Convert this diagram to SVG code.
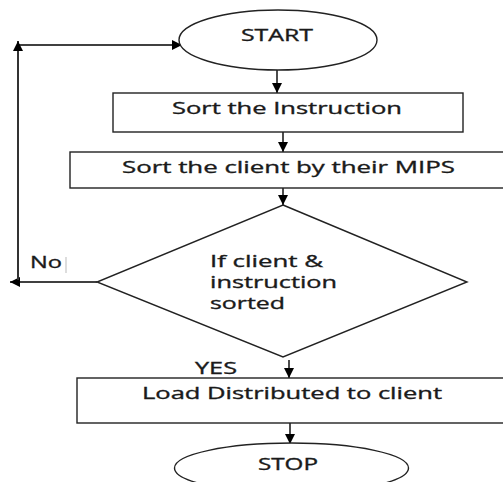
<svg xmlns="http://www.w3.org/2000/svg" width="503" height="482" viewBox="0 0 503 482">
<style>
.shape{fill:#fff;stroke:#222;stroke-width:1.4}
.t{font-family:"Open Sans","Liberation Sans",sans-serif;font-size:16.5px;fill:#1a1a1a;stroke:#1a1a1a;stroke-width:0.35}
.c{text-anchor:middle}
.ln{fill:none;stroke:#000;stroke-width:1.4}
</style>
<defs>
<marker id="ah" viewBox="0 0 10 10" refX="10" refY="5" markerWidth="10" markerHeight="10" markerUnits="userSpaceOnUse" orient="auto">
<path d="M0,0 L10,5 L0,10 z" fill="#000"/>
</marker>
</defs>
<rect width="503" height="482" fill="#fff"/>
<g id="connectors">
<line class="ln" x1="277" y1="70" x2="277" y2="93" marker-end="url(#ah)"/>
<line class="ln" x1="283" y1="132" x2="283" y2="152" marker-end="url(#ah)"/>
<line class="ln" x1="283" y1="188" x2="283" y2="205" marker-end="url(#ah)"/>
<line class="ln" x1="97" y1="282" x2="10" y2="282" marker-end="url(#ah)"/>
<line class="ln" x1="18" y1="280" x2="18" y2="41" marker-end="url(#ah)" style="stroke-width:2;stroke:#333"/>
<line class="ln" x1="19" y1="45" x2="182" y2="45" marker-end="url(#ah)"/>
<line class="ln" x1="289" y1="360" x2="289" y2="378" marker-end="url(#ah)"/>
<line class="ln" x1="290" y1="423" x2="290" y2="444" marker-end="url(#ah)"/>
<text class="t" x="30" y="268" textLength="32" lengthAdjust="spacingAndGlyphs">No</text>
<line x1="66" y1="257" x2="66" y2="273" stroke="#bbb" stroke-width="1"/>
<text class="t" x="195" y="374" textLength="42" lengthAdjust="spacingAndGlyphs">YES</text>
</g>
<g id="start">
<ellipse class="shape" cx="278" cy="40" rx="99" ry="30"/>
<text class="t c" x="277" y="41" textLength="72" lengthAdjust="spacingAndGlyphs">START</text>
</g>
<g id="sort-instruction">
<rect class="shape" x="113" y="93" width="350" height="39"/>
<text class="t c" x="287" y="114" textLength="230" lengthAdjust="spacingAndGlyphs">Sort the Instruction</text>
</g>
<g id="sort-client">
<rect class="shape" x="70" y="152" width="440" height="36"/>
<text class="t c" x="288.5" y="173" textLength="333" lengthAdjust="spacingAndGlyphs">Sort the client by their MIPS</text>
</g>
<g id="decision">
<polygon class="shape" points="283,205 467,282 283,357 97,282"/>
<text class="t" x="210" y="267" textLength="113" lengthAdjust="spacingAndGlyphs">If client &amp;</text>
<text class="t" x="210" y="288" textLength="127" lengthAdjust="spacingAndGlyphs">instruction</text>
<text class="t" x="210" y="309" textLength="75" lengthAdjust="spacingAndGlyphs">sorted</text>
</g>
<g id="load">
<rect class="shape" x="77" y="378" width="433" height="45"/>
<text class="t c" x="292" y="399" textLength="300" lengthAdjust="spacingAndGlyphs">Load Distributed to client</text>
</g>
<g id="stop">
<ellipse class="shape" cx="291.5" cy="468" rx="117" ry="25"/>
<text class="t c" x="288" y="470" textLength="60" lengthAdjust="spacingAndGlyphs">STOP</text>
</g>
</svg>
